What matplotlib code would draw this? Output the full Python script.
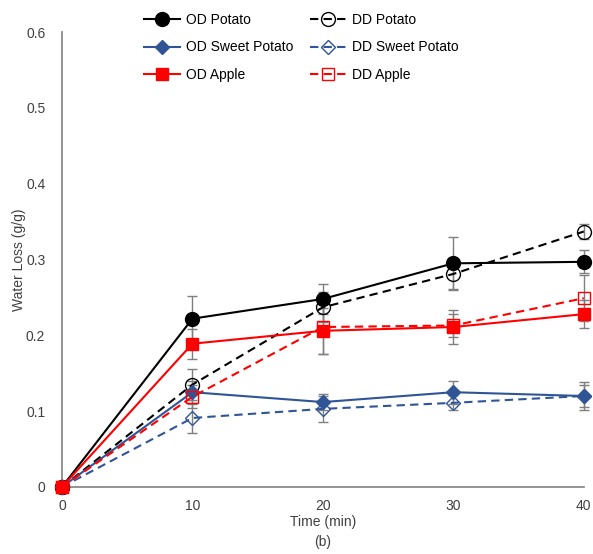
import numpy as np
import matplotlib.pyplot as plt

plt.rcParams['font.family'] = ['Liberation Sans', 'DejaVu Sans']

time = [0, 10, 20, 30, 40]

od_potato = [0, 0.222, 0.248, 0.295, 0.297]
od_potato_err = [0, 0.03, 0.02, 0.035, 0.015]
dd_potato = [0, 0.135, 0.237, 0.281, 0.337]
dd_potato_err = [0, 0.02, 0.02, 0.02, 0.01]

od_sweet = [0, 0.125, 0.112, 0.125, 0.120]
od_sweet_err = [0, 0.015, 0.01, 0.015, 0.018]
dd_sweet = [0, 0.091, 0.103, 0.111, 0.120]
dd_sweet_err = [0, 0.02, 0.017, 0.01, 0.015]

od_apple = [0, 0.189, 0.206, 0.211, 0.228]
od_apple_err = [0, 0.02, 0.03, 0.023, 0.018]
dd_apple = [0, 0.119, 0.211, 0.213, 0.249]
dd_apple_err = [0, 0.015, 0.035, 0.015, 0.03]

blue = '#2f5597'
red = '#ff0000'
grey = '#7f7f7f'
txt = '#404040'

fig = plt.figure(figsize=(5.93, 5.54), dpi=100)
ax = fig.add_axes([0.1045, 0.121, 0.88, 0.821])

series = [
    ('OD Potato', od_potato, od_potato_err, 'black', '-', 'o', 10, True),
    ('DD Potato', dd_potato, dd_potato_err, 'black', '--', 'o', 10, False),
    ('OD Sweet Potato', od_sweet, od_sweet_err, blue, '-', 'D', 7, True),
    ('DD Sweet Potato', dd_sweet, dd_sweet_err, blue, '--', 'D', 7, False),
    ('OD Apple', od_apple, od_apple_err, red, '-', 's', 8.5, True),
    ('DD Apple', dd_apple, dd_apple_err, red, '--', 's', 8.5, False),
]

handles = {}
for name, y, err, col, ls, mk, ms, filled in series:
    ax.errorbar(time, y, yerr=err, fmt='none', ecolor=grey, elinewidth=1,
                capsize=3.5, capthick=1, zorder=2)
    h, = ax.plot(time, y, color=col, linestyle=ls, linewidth=1.5, marker=mk,
                 markersize=ms, markerfacecolor=col if filled else 'none',
                 markeredgecolor=col, markeredgewidth=1, zorder=3,
                 dashes=(4, 2.5) if ls == '--' else (None, None))
    handles[name] = h

ax.set_xlim(0, 40)
ax.set_ylim(0, 0.6)
ax.set_xticks([0, 10, 20, 30, 40])
ax.set_yticks([0, 0.1, 0.2, 0.3, 0.4, 0.5, 0.6])
ax.set_yticklabels(['0', '0.1', '0.2', '0.3', '0.4', '0.5', '0.6'])
ax.tick_params(length=0, labelsize=10, colors=txt)
ax.tick_params(axis='y', pad=12)
ax.tick_params(axis='x', pad=9)
for s in ['top', 'right']:
    ax.spines[s].set_visible(False)
for s in ['left', 'bottom']:
    ax.spines[s].set_color('#808080')
    ax.spines[s].set_linewidth(1.2)
for art in ax.get_children():
    try:
        art.set_clip_on(False)
    except Exception:
        pass

ax.set_xlabel('Time (min)\n(b)', fontsize=10, color=txt, labelpad=1,
              linespacing=1.6)
ax.set_ylabel('Water Loss (g/g)', fontsize=10, color=txt, labelpad=0)

order = ['OD Potato', 'OD Sweet Potato', 'OD Apple',
         'DD Potato', 'DD Sweet Potato', 'DD Apple']
fig.legend([handles[n] for n in order], order, ncol=2, frameon=False,
           loc='upper center', bbox_to_anchor=(0.508, 1.0), fontsize=10,
           labelcolor='black', columnspacing=1.2, handlelength=2.6,
           handletextpad=0.4, labelspacing=1.0)

fig.savefig('out.png', dpi=100)
